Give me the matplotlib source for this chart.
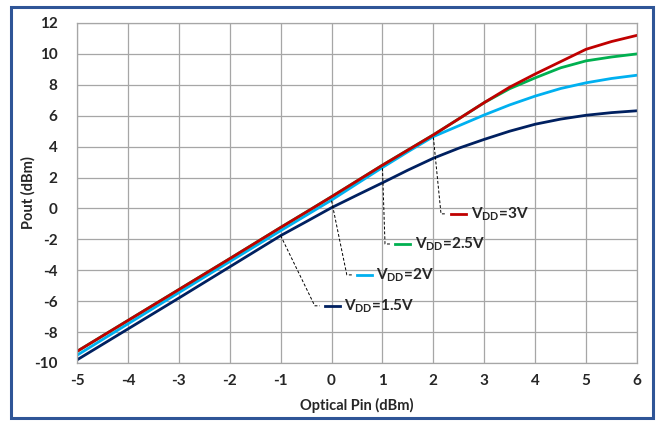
import matplotlib.pyplot as plt
from matplotlib.patches import Rectangle
import numpy as np

plt.rcParams['font.family'] = ['Lato', 'DejaVu Sans']
plt.rcParams['mathtext.fontset'] = 'custom'
plt.rcParams['mathtext.bf'] = 'Lato:bold'
plt.rcParams['mathtext.rm'] = 'Lato:bold'
plt.rcParams['axes.unicode_minus'] = False

# data
pin = [-5, -4, -3, -2, -1, -0.5, 0, 0.5, 1, 1.5, 2, 2.5, 3, 3.5, 4, 4.5, 5, 5.5, 6]
pout_3v = [-9.25, -7.25, -5.25, -3.25, -1.23, -0.24, 0.76, 1.78, 2.8, 3.78, 4.76, 5.8, 6.85, 7.85, 8.7, 9.5, 10.3, 10.8, 11.2]
pout_25v = [-9.25, -7.25, -5.25, -3.25, -1.23, -0.24, 0.76, 1.78, 2.8, 3.78, 4.76, 5.8, 6.85, 7.75, 8.45, 9.1, 9.55, 9.8, 10.0]
pout_2v = [-9.5, -7.47, -5.45, -3.44, -1.44, -0.45, 0.54, 1.6, 2.65, 3.67, 4.65, 5.35, 6.05, 6.7, 7.27, 7.76, 8.13, 8.41, 8.62]
pout_15v = [-9.8, -7.8, -5.8, -3.78, -1.76, -0.86, 0.05, 0.86, 1.66, 2.48, 3.25, 3.9, 4.47, 5.0, 5.45, 5.78, 6.03, 6.2, 6.32]

labels = ['3V', '2.5V', '2V', '1.5V']
colors = ['#C00000', '#00B050', '#00B0F0', '#002060']
# leader lines: point on curve -> label position
anchors = [(2.0, 4.6), (1.0, 2.6), (0.0, 0.5), (-1.0, -1.76)]
label_pos = [(2.15, -0.35), (1.05, -2.3), (0.3, -4.3), (-0.33, -6.3)]

fig = plt.figure(figsize=(6.61, 4.21), dpi=100)
ax = fig.add_axes([0.1165, 0.1378, 0.8472, 0.8076])

series = [pout_3v, pout_25v, pout_2v, pout_15v]
for ys, c in zip(series[::-1], colors[::-1]):
    ax.plot(pin, ys, color=c, lw=2.0, solid_capstyle='round', solid_joinstyle='round')

for lab, c, (ax0, ay0), (lx, ly) in zip(labels, colors, anchors, label_pos):
    ax.plot([ax0, lx, lx + 0.1], [ay0, ly, ly], color='black', lw=0.7, ls=(0, (3, 2)))
    ax.plot([lx + 0.2, lx + 0.5], [ly, ly], color=c, lw=2.0)
    ax.text(lx + 0.58, ly, r'V$_{\mathbf{DD}}$=' + lab, fontsize=11, fontweight='bold',
            va='center', ha='left', color='#262626')

ax.set_xlim(-5, 6)
ax.set_ylim(-10, 12)
ax.set_xticks(np.arange(-5, 7, 1))
ax.set_yticks(np.arange(-10, 13, 2))
ax.grid(True, color='#A6A6A6', lw=0.9)
ax.set_axisbelow(True)
for s in ax.spines.values():
    s.set_color('#A6A6A6')
    s.set_linewidth(0.9)
ax.tick_params(length=0, pad=8, labelsize=11, labelcolor='#262626')
for t in ax.get_xticklabels() + ax.get_yticklabels():
    t.set_fontweight('bold')
ax.tick_params(axis='y', pad=14)
ax.set_xlabel('Optical Pin (dBm)', fontsize=10.5, fontweight='bold', color='#262626', labelpad=7)
ax.set_ylabel('Pout (dBm)', fontsize=10.5, fontweight='bold', color='#262626', labelpad=-1)

fig.patches.append(Rectangle((11 / 661, 3 / 421), 642 / 661, 411 / 421, transform=fig.transFigure,
                             fill=False, edgecolor='#2F5597', lw=2.2))

fig.savefig('out.png', dpi=100)
